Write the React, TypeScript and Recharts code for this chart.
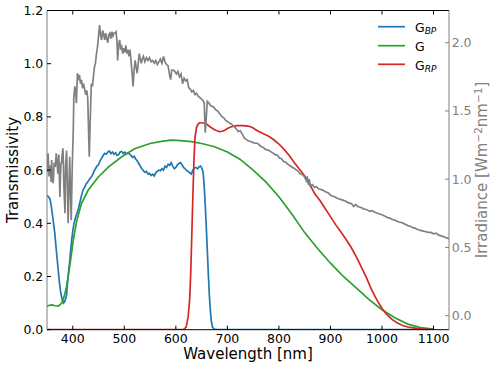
import React from 'react';
import { LineChart, Line, XAxis, YAxis } from 'recharts';

// ---- Data ----
const xTicks = [400, 500, 600, 700, 800, 900, 1000, 1100];
const leftTicks = [0, 0.2, 0.4, 0.6, 0.8, 1.0, 1.2];
const rightTicks = [0, 0.5, 1.0, 1.5, 2.0];

const bpWavelength = [350, 353, 356, 359, 362, 365, 368, 371, 374, 377, 380, 382, 384, 386, 388, 390, 392, 394, 396, 398, 400, 402, 405, 408, 411, 414, 417, 420, 423, 426, 429, 432, 435, 438, 441, 444, 447, 450, 453, 456, 459, 462, 465, 468, 471, 474, 477, 480, 483, 486, 489, 492, 495, 498, 501, 504, 507, 510, 513, 516, 519, 522, 525, 528, 531, 534, 537, 540, 543, 546, 549, 552, 555, 558, 561, 564, 567, 570, 573, 576, 579, 582, 585, 588, 591, 594, 597, 600, 603, 606, 609, 612, 615, 618, 621, 624, 627, 630, 633, 636, 639, 642, 645, 648, 651, 653, 655, 657, 659, 661, 663, 665, 667, 669, 671, 674, 680, 800, 1000, 1100];
const bpTransmissivity = [0.505, 0.5, 0.49, 0.455, 0.41, 0.365, 0.3, 0.24, 0.18, 0.135, 0.108, 0.1, 0.105, 0.115, 0.13, 0.18, 0.22, 0.255, 0.3, 0.34, 0.37, 0.395, 0.42, 0.437, 0.455, 0.48, 0.505, 0.525, 0.535, 0.548, 0.555, 0.565, 0.572, 0.58, 0.595, 0.605, 0.615, 0.62, 0.635, 0.645, 0.655, 0.663, 0.66, 0.668, 0.672, 0.662, 0.668, 0.66, 0.665, 0.655, 0.658, 0.668, 0.67, 0.662, 0.667, 0.66, 0.665, 0.66, 0.655, 0.648, 0.652, 0.642, 0.635, 0.625, 0.615, 0.605, 0.598, 0.592, 0.595, 0.585, 0.588, 0.58, 0.585, 0.578, 0.59, 0.595, 0.6, 0.598, 0.605, 0.6, 0.615, 0.61, 0.622, 0.618, 0.628, 0.615, 0.605, 0.61, 0.62, 0.625, 0.628, 0.62, 0.61, 0.605, 0.598, 0.595, 0.59, 0.585, 0.6, 0.608, 0.61, 0.605, 0.612, 0.615, 0.605, 0.59, 0.54, 0.47, 0.39, 0.3, 0.21, 0.13, 0.07, 0.03, 0.01, 0.002, 0, 0, 0, 0];

const gWavelength = [350, 355, 360, 365, 372, 376, 380, 384, 388, 391, 395, 401, 408, 417, 430, 450, 470, 495, 520, 550, 575, 592, 610, 630, 650, 675, 700, 725, 750, 775, 800, 825, 850, 875, 900, 925, 950, 975, 1000, 1025, 1050, 1075, 1100];
const gTransmissivity = [0.088, 0.092, 0.093, 0.09, 0.089, 0.095, 0.105, 0.13, 0.162, 0.2, 0.25, 0.337, 0.412, 0.475, 0.525, 0.575, 0.613, 0.65, 0.68, 0.7, 0.709, 0.713, 0.711, 0.707, 0.7, 0.688, 0.668, 0.64, 0.6, 0.555, 0.5, 0.435, 0.365, 0.305, 0.25, 0.2, 0.157, 0.113, 0.075, 0.045, 0.021, 0.008, 0.002];

const rpWavelength = [350, 600, 615, 620, 624, 627, 629, 631, 633, 635, 637, 640, 643, 646, 650, 655, 660, 665, 670, 675, 680, 685, 690, 695, 700, 705, 710, 715, 720, 725, 730, 735, 740, 745, 750, 755, 760, 770, 780, 790, 800, 810, 820, 830, 840, 850, 860, 870, 880, 890, 900, 910, 920, 930, 940, 950, 960, 970, 980, 990, 1000, 1010, 1020, 1030, 1040, 1050, 1060, 1070, 1080, 1090, 1100];
const rpTransmissivity = [0, 0, 0, 0.01, 0.05, 0.12, 0.22, 0.36, 0.5, 0.63, 0.72, 0.76, 0.772, 0.778, 0.778, 0.776, 0.772, 0.765, 0.758, 0.752, 0.748, 0.745, 0.746, 0.75, 0.756, 0.761, 0.764, 0.766, 0.767, 0.767, 0.767, 0.766, 0.765, 0.763, 0.758, 0.752, 0.746, 0.737, 0.727, 0.714, 0.698, 0.678, 0.655, 0.628, 0.603, 0.578, 0.545, 0.51, 0.485, 0.455, 0.425, 0.395, 0.368, 0.34, 0.31, 0.275, 0.235, 0.195, 0.15, 0.112, 0.08, 0.056, 0.038, 0.025, 0.016, 0.01, 0.007, 0.004, 0.002, 0.001, 0];

const sunWavelength = [350, 352, 354, 356, 358, 359, 361, 362, 364, 366, 368, 370, 371, 373, 375, 377, 378, 380, 381, 383, 385, 386, 388, 389, 391, 393, 394, 396, 397, 399, 401, 402, 404, 406, 407, 409, 411, 413, 415, 417, 419, 421, 423, 425, 427, 429, 431, 432, 434, 436, 438, 440, 442, 444, 446, 448, 450, 452, 454, 456, 458, 460, 462, 464, 466, 468, 470, 472, 474, 476, 478, 480, 482, 484, 486, 487, 489, 491, 493, 495, 497, 499, 501, 503, 505, 507, 509, 511, 513, 515, 517, 519, 521, 523, 525, 527, 529, 531, 533, 535, 537, 540, 543, 546, 549, 552, 555, 558, 561, 564, 567, 570, 573, 576, 579, 582, 585, 588, 590, 592, 595, 598, 601, 604, 607, 610, 613, 616, 619, 622, 625, 628, 631, 634, 637, 640, 643, 646, 649, 652, 655, 657, 659, 661, 664, 667, 670, 673, 677, 681, 685, 689, 693, 697, 701, 705, 709, 713, 717, 721, 725, 729, 733, 737, 741, 745, 749, 753, 757, 761, 765, 769, 773, 777, 781, 785, 789, 793, 797, 801, 805, 809, 813, 817, 821, 825, 829, 833, 837, 841, 845, 849, 853, 855, 857, 859, 861, 865, 869, 873, 877, 881, 885, 889, 893, 897, 901, 905, 909, 913, 917, 921, 925, 929, 933, 937, 941, 945, 949, 953, 957, 961, 965, 969, 973, 977, 981, 985, 990, 995, 1000, 1005, 1010, 1015, 1020, 1025, 1030, 1035, 1040, 1045, 1050, 1055, 1060, 1065, 1070, 1075, 1080, 1085, 1090, 1095, 1100, 1105, 1110, 1115, 1120, 1125, 1130];
const sunIrradiance = [1.05, 1.19, 1.02, 1.1, 0.98, 1.14, 1.0, 0.97, 1.12, 1.09, 1.19, 1.1, 1.04, 1.18, 0.87, 1.12, 1.11, 1.2, 1.226, 0.92, 0.75, 1.1, 1.21, 1.05, 0.677, 1.0, 1.165, 0.85, 0.7, 1.1, 1.36, 1.6, 1.68, 1.62, 1.556, 1.776, 1.74, 1.763, 1.7, 1.727, 1.666, 1.7, 1.66, 1.62, 1.65, 1.6, 1.3, 1.165, 1.45, 1.7, 1.68, 1.75, 1.82, 1.85, 1.92, 1.97, 2.05, 2.13, 2.05, 2.02, 2.09, 2.06, 2.02, 2.07, 2.03, 2.0, 2.06, 2.07, 2.03, 2.08, 2.05, 2.07, 2.07, 2.08, 2.0, 1.87, 1.98, 2.02, 1.95, 1.97, 1.92, 1.96, 1.93, 1.98, 1.92, 1.95, 1.9, 1.95, 1.87, 1.78, 1.68, 1.8, 1.87, 1.82, 1.776, 1.85, 1.92, 1.88, 1.85, 1.88, 1.9, 1.86, 1.89, 1.87, 1.89, 1.86, 1.87, 1.85, 1.87, 1.84, 1.86, 1.88, 1.85, 1.9, 1.86, 1.84, 1.83, 1.76, 1.73, 1.8, 1.8, 1.79, 1.77, 1.79, 1.75, 1.77, 1.7, 1.74, 1.72, 1.73, 1.67, 1.66, 1.64, 1.65, 1.62, 1.63, 1.61, 1.6, 1.59, 1.58, 1.56, 1.34, 1.45, 1.57, 1.56, 1.54, 1.535, 1.53, 1.51, 1.5, 1.48, 1.46, 1.45, 1.43, 1.42, 1.41, 1.4, 1.385, 1.37, 1.35, 1.355, 1.33, 1.3, 1.29, 1.28, 1.276, 1.27, 1.262, 1.265, 1.255, 1.24, 1.235, 1.22, 1.215, 1.21, 1.2, 1.19, 1.18, 1.175, 1.155, 1.15, 1.13, 1.125, 1.11, 1.1, 1.09, 1.08, 1.07, 1.06, 1.04, 1.035, 1.02, 0.99, 1.02, 0.96, 1.0, 0.95, 0.96, 0.94, 0.945, 0.93, 0.925, 0.92, 0.91, 0.905, 0.895, 0.88, 0.875, 0.87, 0.86, 0.855, 0.85, 0.845, 0.84, 0.83, 0.825, 0.82, 0.8, 0.815, 0.8, 0.795, 0.79, 0.78, 0.78, 0.77, 0.765, 0.77, 0.76, 0.752, 0.745, 0.74, 0.73, 0.72, 0.715, 0.705, 0.7, 0.69, 0.685, 0.68, 0.67, 0.66, 0.655, 0.645, 0.64, 0.63, 0.625, 0.62, 0.615, 0.61, 0.61, 0.6, 0.605, 0.59, 0.585, 0.578, 0.57, 0.565];

const toRows = (xs: number[], ys: number[]) => xs.map((x, i) => ({ x, y: ys[i] }));

const bpRows = toRows(bpWavelength, bpTransmissivity);
const gRows = toRows(gWavelength, gTransmissivity);
const rpRows = toRows(rpWavelength, rpTransmissivity);
const sunRows = toRows(sunWavelength, sunIrradiance);

const BLUE = '#1f77b4';
const GREEN = '#2ca02c';
const RED = '#d62728';
const GRAY = '#808080';
const FONT = "'DejaVu Sans', sans-serif";
const LW = 1.7;

const legendItems = [
  { color: BLUE, main: 'G', sub: 'BP', y: 26.7 },
  { color: GREEN, main: 'G', sub: '', y: 45.7 },
  { color: RED, main: 'G', sub: 'RP', y: 64.3 },
];

export default function App() {
  return (
    <div style={{ position: 'absolute', left: 0, top: 0, width: 498, height: 369, fontFamily: FONT, background: '#fff' }}>
      <LineChart width={498} height={369} margin={{ top: 0, right: 0, bottom: 0, left: 0 }}>
        <XAxis
          xAxisId="bottom"
          dataKey="x"
          type="number"
          orientation="bottom"
          domain={[350, 1130]}
          allowDataOverflow
          ticks={xTicks}
          height={39.3}
          tickSize={-4}
          tickMargin={8.6}
          axisLine={{ stroke: '#000', strokeWidth: 1 }}
          tickLine={{ stroke: '#000' }}
          tick={{ fill: '#000', fontSize: 12.5, fontFamily: FONT }}
        />
        <XAxis
          xAxisId="top"
          dataKey="x"
          type="number"
          orientation="top"
          domain={[350, 1130]}
          allowDataOverflow
          ticks={xTicks}
          height={10.5}
          tickSize={-4}
          tickMargin={4}
          tickFormatter={() => ''}
          axisLine={{ stroke: '#000', strokeWidth: 1 }}
          tickLine={{ stroke: '#000' }}
        />
        <YAxis
          yAxisId="left"
          type="number"
          orientation="left"
          domain={[0, 1.2]}
          allowDataOverflow
          ticks={leftTicks}
          width={47}
          tickSize={-4}
          tickMargin={7.7}
          tickFormatter={(v: number) => v.toFixed(1)}
          axisLine={{ stroke: GRAY, strokeWidth: 1 }}
          tickLine={{ stroke: '#000' }}
          tick={{ fill: '#000', fontSize: 12.5, fontFamily: FONT }}
        />
        <YAxis
          yAxisId="right"
          type="number"
          orientation="right"
          domain={[-0.1026, 2.236]}
          allowDataOverflow
          ticks={rightTicks}
          width={49}
          tickSize={-4}
          tickMargin={6.7}
          tickFormatter={(v: number) => v.toFixed(1)}
          axisLine={{ stroke: GRAY, strokeWidth: 1 }}
          tickLine={{ stroke: GRAY }}
          tick={{ fill: GRAY, fontSize: 12.5, fontFamily: FONT }}
        />
        <Line xAxisId="bottom" yAxisId="left" data={bpRows} dataKey="y" type="linear" stroke={BLUE} strokeWidth={LW} dot={false} isAnimationActive={false} />
        <Line xAxisId="bottom" yAxisId="left" data={gRows} dataKey="y" type="linear" stroke={GREEN} strokeWidth={LW} dot={false} isAnimationActive={false} />
        <Line xAxisId="bottom" yAxisId="left" data={rpRows} dataKey="y" type="linear" stroke={RED} strokeWidth={LW} dot={false} isAnimationActive={false} />
        <Line xAxisId="bottom" yAxisId="right" data={sunRows} dataKey="y" type="linear" stroke={GRAY} strokeWidth={LW} dot={false} isAnimationActive={false} />
      </LineChart>

      {/* Axis titles */}
      <div style={{ position: 'absolute', left: 248, top: 347.3, transform: 'translateX(-50%)', fontSize: 15, lineHeight: '15px', whiteSpace: 'nowrap', color: '#000' }}>
        Wavelength [nm]
      </div>
      <div style={{ position: 'absolute', left: 13.1, top: 170, transform: 'translate(-50%, -50%) rotate(-90deg)', fontSize: 15, lineHeight: '15px', whiteSpace: 'nowrap', color: '#000' }}>
        Transmissivity
      </div>
      <div style={{ position: 'absolute', left: 483.1, top: 170, transform: 'translate(-50%, -50%) rotate(-90deg)', fontSize: 15, lineHeight: '15px', whiteSpace: 'nowrap', color: GRAY }}>
        Irradiance [Wm<span style={{ fontSize: 10.5, position: 'relative', top: -5 }}>−2</span>nm<span style={{ fontSize: 10.5, position: 'relative', top: -5 }}>−1</span>]
      </div>

      {/* Legend */}
      <svg style={{ position: 'absolute', left: 0, top: 0, pointerEvents: 'none' }} width={498} height={369}>
        {legendItems.map((it) => (
          <line key={'l' + it.y} x1={378} x2={405} y1={it.y} y2={it.y} stroke={it.color} strokeWidth={LW} />
        ))}
      </svg>
      {legendItems.map((it) => (
        <div key={'t' + it.y} style={{ position: 'absolute', left: 415, top: it.y - 7.5 + 1, fontSize: 12.5, lineHeight: '15px', whiteSpace: 'nowrap', color: '#000' }}>
          {it.main}
          {it.sub ? (
            <span style={{ fontSize: 9, fontStyle: 'italic', position: 'relative', top: 2 }}>{it.sub}</span>
          ) : null}
        </div>
      ))}
    </div>
  );
}
